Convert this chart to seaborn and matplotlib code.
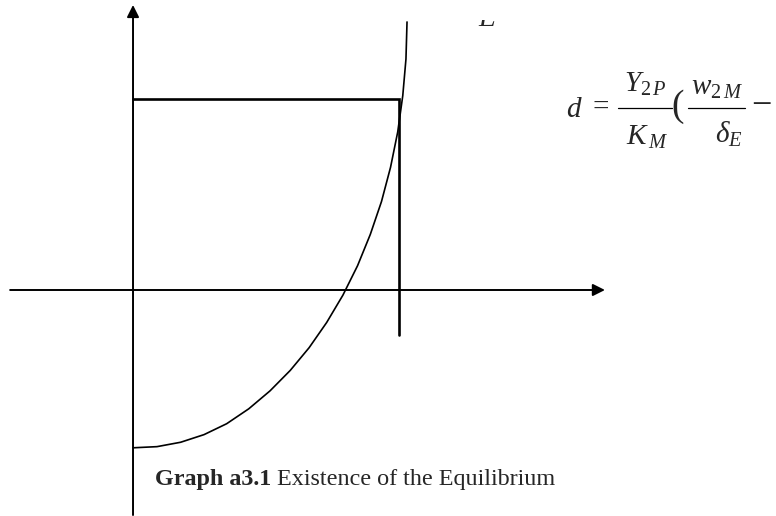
import numpy as np
import matplotlib.pyplot as plt
import seaborn as sns
from matplotlib.transforms import Bbox, TransformedBbox

# Curve (x: 1 = vertical line, y: 1 = horizontal line)
curve_x = [0.0, 0.090, 0.179, 0.267, 0.352, 0.435, 0.515, 0.591, 0.662, 0.728,
           0.789, 0.844, 0.892, 0.934, 0.968, 0.995, 1.014, 1.026, 1.030]
curve_y = [-0.826, -0.820, -0.797, -0.757, -0.700, -0.622, -0.528, -0.421,
           -0.302, -0.170, -0.027, 0.127, 0.291, 0.463, 0.642, 0.827, 1.017,
           1.209, 1.403]

# equilibrium box: horizontal line then vertical line
box_x = [0.0, 1.0, 1.0]
box_y = [1.0, 1.0, -0.236]

# axis extents
x_axis = [-0.462, 1.774]
y_axis = [-1.178, 1.492]

caption_bold = "Graph a3.1"
caption_rest = " Existence of the Equilibrium"

sns.set_theme(style="white")
plt.rcParams["font.family"] = ["Liberation Serif", "DejaVu Serif"]
plt.rcParams["mathtext.fontset"] = "custom"
plt.rcParams["mathtext.rm"] = "Liberation Serif"
plt.rcParams["mathtext.it"] = "Liberation Serif:italic"
plt.rcParams["mathtext.bf"] = "Liberation Serif:bold"

fig = plt.figure(figsize=(7.76, 5.16), dpi=100)
ax = fig.add_axes([0, 0, 1, 1])
ax.axis("off")
ax.set_xlim(-0.5, 2.417)
ax.set_ylim(-1.183, 1.518)

arrow = dict(arrowstyle="-|>", lw=1.4, color="black", mutation_scale=18,
             shrinkA=0, shrinkB=0)
ax.annotate("", xy=(x_axis[1], 0), xytext=(x_axis[0], 0), arrowprops=arrow)
ax.annotate("", xy=(0, y_axis[1]), xytext=(0, y_axis[0]), arrowprops=arrow)

ax.plot(box_x, box_y, color="black", lw=1.9, solid_joinstyle="miter")
sns.lineplot(x=curve_x, y=curve_y, ax=ax, color="black", lw=1.2, sort=False)

# text layer in page pixels
tx = fig.add_axes([0, 0, 1, 1])
tx.axis("off")
tx.set_xlim(0, 776)
tx.set_ylim(516, 0)

# E label, clipped at its top like the source
e = tx.text(478, 26, "E", fontsize=20, style="italic", ha="left", va="baseline")
e.set_clip_box(TransformedBbox(Bbox([[460, 19.5], [520, 40]]), tx.transData))
e.set_clip_on(True)

# formula d = Y_2P/K_M ( w_2M/delta_E -   (cut at the right edge)
fs = 21
tx.text(574, 117, "$d$", fontsize=fs, ha="center", va="baseline")
tx.text(601, 115, "=", fontsize=fs, ha="center", va="baseline")
tx.plot([618, 672], [108, 108], color="black", lw=0.9)
tx.text(645, 92, r"$Y_{2\,P}$", fontsize=fs, ha="center", va="baseline")
tx.text(647, 145, r"$K_{\,M}$", fontsize=fs, ha="center", va="baseline")
tx.text(678, 116, "(", fontsize=27, ha="center", va="baseline")
tx.plot([688, 745], [108, 108], color="black", lw=0.9)
tx.text(717, 95, r"$w_{2\,M}$", fontsize=fs, ha="center", va="baseline")
tx.text(729, 143, r"$\delta_{E}$", fontsize=fs, ha="center", va="baseline")
tx.text(751, 115, "\u2212", fontsize=26, ha="left", va="baseline")

t1 = tx.text(155, 485, caption_bold, fontsize=17.4, fontweight="bold",
             ha="left", va="baseline")
tx.annotate(caption_rest, xy=(1, 0), xycoords=t1, fontsize=17.4,
            ha="left", va="bottom")

fig.savefig("out.png", dpi=100)
